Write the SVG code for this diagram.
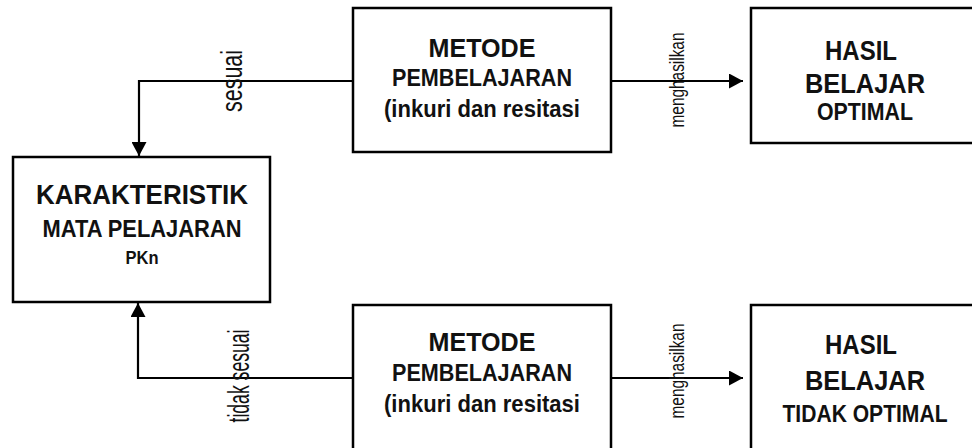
<svg xmlns="http://www.w3.org/2000/svg" width="972" height="448" viewBox="0 0 972 448">
<defs>
<style>
.box{fill:#fff;stroke:#000;stroke-width:2.5}
.t{font-family:"Liberation Sans",Arial,sans-serif;font-weight:bold;fill:#111;text-anchor:middle}
.lbl{font-family:"Liberation Sans",Arial,sans-serif;fill:#111;text-anchor:middle}
.c{fill:none;stroke:#000;stroke-width:2.2}
</style>
<marker id="arr" viewBox="0 0 10 10" refX="10" refY="5" markerWidth="14" markerHeight="15" markerUnits="userSpaceOnUse" orient="auto" preserveAspectRatio="none">
<path d="M0,0 L10,5 L0,10 z" fill="#000"/>
</marker>
</defs>
<rect width="972" height="448" fill="#fff"/>
<g id="connectors">
<path class="c" d="M353,81 H139 V156" marker-end="url(#arr)"/>
<path class="c" d="M611,81 H743" marker-end="url(#arr)"/>
<path class="c" d="M353,378 H138 V303" marker-end="url(#arr)"/>
<path class="c" d="M611,378 H743" marker-end="url(#arr)"/>
<text class="lbl" font-size="29" textLength="62" lengthAdjust="spacingAndGlyphs" transform="translate(242,81) rotate(-90)">sesuai</text>
<text class="lbl" font-size="29" textLength="93" lengthAdjust="spacingAndGlyphs" transform="translate(249,376) rotate(-90)">tidak sesuai</text>
<text class="lbl" font-size="20" textLength="95" lengthAdjust="spacingAndGlyphs" transform="translate(684,80) rotate(-90)">menghasilkan</text>
<text class="lbl" font-size="20" textLength="95" lengthAdjust="spacingAndGlyphs" transform="translate(684,371) rotate(-90)">menghasilkan</text>
</g>
<g id="karakteristik">
<rect class="box" x="13" y="157" width="257" height="145"/>
<text class="t" x="142" y="204" font-size="28" textLength="212" lengthAdjust="spacingAndGlyphs">KARAKTERISTIK</text>
<text class="t" x="142" y="237" font-size="23" textLength="199" lengthAdjust="spacingAndGlyphs">MATA PELAJARAN</text>
<text class="t" x="142" y="264" font-size="18" textLength="33" lengthAdjust="spacingAndGlyphs">PKn</text>
</g>
<g id="metode1">
<rect class="box" x="353" y="8" width="258" height="144"/>
<text class="t" x="482" y="57" font-size="26" textLength="107" lengthAdjust="spacingAndGlyphs">METODE</text>
<text class="t" x="482" y="86" font-size="24" textLength="180" lengthAdjust="spacingAndGlyphs">PEMBELAJARAN</text>
<text class="t" x="482" y="117" font-size="24" textLength="196" lengthAdjust="spacingAndGlyphs">(inkuri dan resitasi</text>
</g>
<g id="hasil1">
<rect class="box" x="751" y="8" width="240" height="135"/>
<text class="t" x="861" y="60" font-size="28" textLength="72" lengthAdjust="spacingAndGlyphs">HASIL</text>
<text class="t" x="865" y="93" font-size="28" textLength="120" lengthAdjust="spacingAndGlyphs">BELAJAR</text>
<text class="t" x="865" y="120" font-size="23" textLength="96" lengthAdjust="spacingAndGlyphs">OPTIMAL</text>
</g>
<g id="metode2">
<rect class="box" x="353" y="305" width="258" height="150"/>
<text class="t" x="482" y="351" font-size="26" textLength="107" lengthAdjust="spacingAndGlyphs">METODE</text>
<text class="t" x="482" y="381" font-size="24" textLength="180" lengthAdjust="spacingAndGlyphs">PEMBELAJARAN</text>
<text class="t" x="482" y="412" font-size="24" textLength="196" lengthAdjust="spacingAndGlyphs">(inkuri dan resitasi</text>
</g>
<g id="hasil2">
<rect class="box" x="751" y="305" width="240" height="150"/>
<text class="t" x="861" y="354" font-size="28" textLength="72" lengthAdjust="spacingAndGlyphs">HASIL</text>
<text class="t" x="865" y="390" font-size="28" textLength="120" lengthAdjust="spacingAndGlyphs">BELAJAR</text>
<text class="t" x="865" y="422" font-size="23" textLength="165" lengthAdjust="spacingAndGlyphs">TIDAK OPTIMAL</text>
</g>
</svg>
